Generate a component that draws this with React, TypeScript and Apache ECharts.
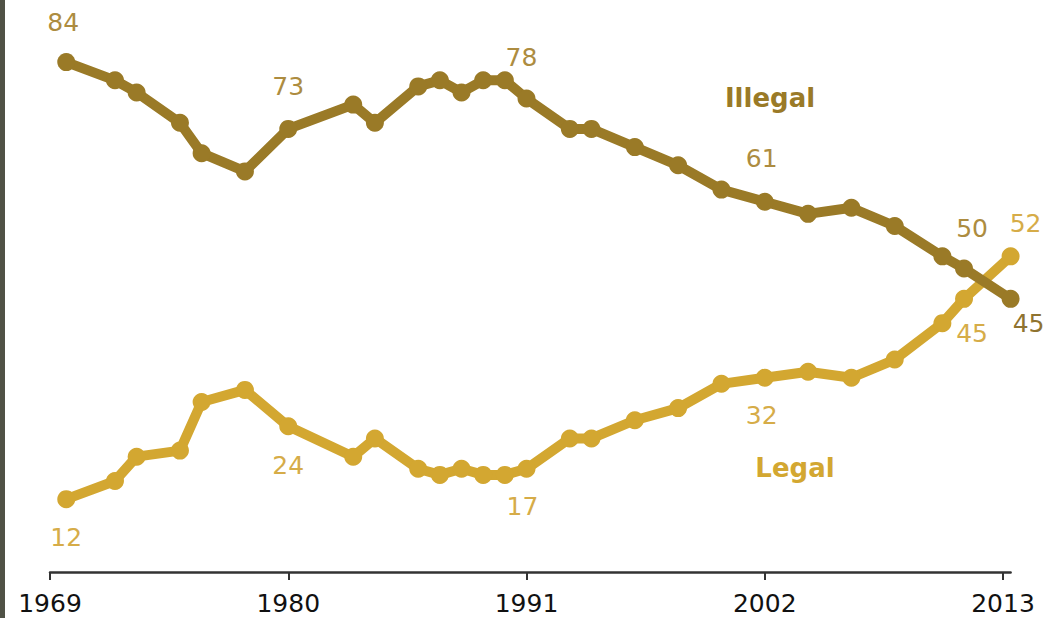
import React, { useEffect, useRef } from "react";
import * as echarts from "echarts";

// Survey dates (fractional where the survey fell mid-year)
const years = [
  1969.75, 1972, 1973, 1975, 1976, 1978, 1980, 1983, 1984, 1986, 1987, 1988,
  1989, 1990, 1991, 1993, 1994, 1996, 1998, 2000, 2002, 2004, 2006, 2008,
  2010.2, 2011.2, 2013.35,
];
const illegal = [
  84, 81, 79, 74, 69, 66, 73, 77, 74, 80, 81, 79, 81, 81, 78, 73, 73, 70, 67,
  63, 61, 59, 60, 57, 52, 50, 45,
];
const legal = [
  12, 15, 19, 20, 28, 30, 24, 19, 22, 17, 16, 17, 16, 16, 17, 22, 22, 25, 27,
  31, 32, 33, 32, 35, 41, 45, 52,
];
const xTicks = [1969, 1980, 1991, 2002, 2013];
const labeledPoints = [0, 6, 14, 20, 25, 26];
const seriesNames = ["Illegal", "Legal"];

const FONT = "'DejaVu Sans', Verdana, sans-serif";

export default function App() {
  const ref = useRef<HTMLDivElement>(null);

  useEffect(() => {
    document.body.style.margin = "0";
    const chart = echarts.init(ref.current!, null, { renderer: "svg" });

    const illegalOffsets: Record<number, number[]> = {
      0: [-3, -40],
      6: [0, -42],
      14: [-5, -41],
      20: [-3, -43],
      25: [8, -40],
      26: [18, 25],
    };
    const legalOffsets: Record<number, number[]> = {
      0: [0, 38],
      6: [0, 39],
      14: [-4, 38],
      20: [-3, 38],
      25: [8, 35],
      26: [15, -33],
    };

    const build = (
      vals: number[],
      offsets: Record<number, number[]>,
      labelColor: string,
      lastColor: string
    ) =>
      vals.map((v, i) => {
        const item: any = { value: [years[i], v] };
        if (labeledPoints.includes(i)) {
          item.label = {
            show: true,
            position: "inside",
            offset: offsets[i],
            formatter: String(v),
            color: i === vals.length - 1 ? lastColor : labelColor,
            fontFamily: FONT,
            fontSize: 25,
          };
        }
        return item;
      });

    const illegalColor = "#9a7a27";
    const legalColor = "#d3a731";

    chart.setOption({
      animation: false,
      backgroundColor: "#ffffff",
      grid: { left: 50, right: 49.4, top: 25.7, bottom: 46, containLabel: false },
      xAxis: {
        type: "value",
        min: 1969,
        max: 2013.35,
        splitLine: { show: false },
        axisLine: { show: true, lineStyle: { color: "#333333", width: 2.5 } },
        axisTick: {
          show: true,
          customValues: xTicks,
          length: 8,
          lineStyle: { color: "#333333", width: 2 },
        },
        axisLabel: {
          customValues: xTicks,
          formatter: (v: number) => String(v),
          color: "#111111",
          fontFamily: FONT,
          fontSize: 25,
          margin: 19,
        },
      },
      yAxis: {
        type: "value",
        min: 0,
        max: 90,
        show: false,
        splitLine: { show: false },
      },
      series: [
        {
          name: seriesNames[1],
          type: "line",
          data: build(legal, legalOffsets, "#d6ac48", "#d6ac48"),
          symbol: "circle",
          symbolSize: 18,
          lineStyle: { color: legalColor, width: 10 },
          itemStyle: { color: legalColor },
          label: { show: false },
        },
        {
          name: seriesNames[0],
          type: "line",
          data: build(illegal, illegalOffsets, "#ad8c40", "#8f7330"),
          symbol: "circle",
          symbolSize: 18,
          lineStyle: { color: illegalColor, width: 10 },
          itemStyle: { color: illegalColor },
          label: { show: false },
        },
      ],
      graphic: [
        {
          type: "rect",
          left: 0,
          top: 0,
          shape: { x: 0, y: 0, width: 5, height: 618 },
          style: { fill: "#505246" },
        },
        {
          type: "text",
          x: 770,
          y: 98,
          style: {
            text: seriesNames[0],
            fill: illegalColor,
            font: `bold 26px ${FONT}`,
            align: "center",
            verticalAlign: "middle",
          },
        },
        {
          type: "text",
          x: 795,
          y: 468,
          style: {
            text: seriesNames[1],
            fill: legalColor,
            font: `bold 26px ${FONT}`,
            align: "center",
            verticalAlign: "middle",
          },
        },
      ],
    });

    return () => chart.dispose();
  }, []);

  return (
    <div
      ref={ref}
      style={{ position: "fixed", left: 0, top: 0, width: 1060, height: 618 }}
    />
  );
}
